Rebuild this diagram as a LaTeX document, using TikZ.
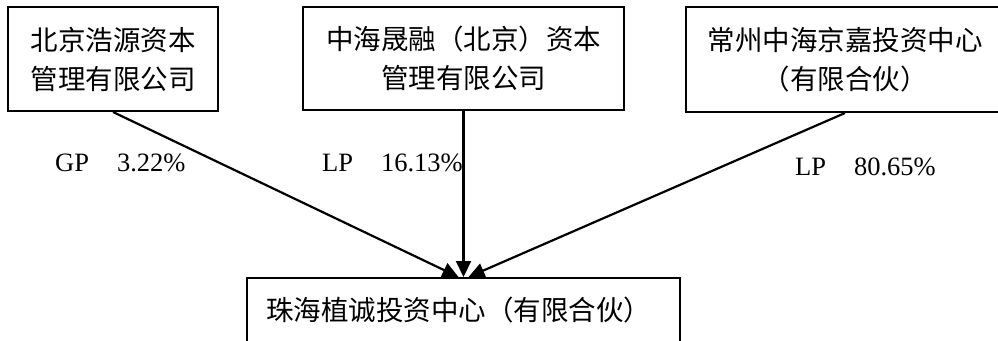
\documentclass[tikz,border=0pt]{standalone}
\usepackage{fontspec}
\setmainfont{Liberation Serif}
\newfontfamily\cjk{Noto Sans CJK SC}
\usetikzlibrary{arrows.meta,calc}
\begin{document}
\begin{tikzpicture}[x=1pt,y=-1pt,
  box/.style={draw,line width=2pt,align=center,inner sep=0pt,
    font=\cjk\fontsize{27.5}{39}\selectfont},
  conn/.style={line width=2.2pt,-{Triangle[length=16pt,width=15pt]}},
  pct/.style={anchor=west,inner sep=0pt,font=\fontsize{26.5}{30}\selectfont}]
\useasboundingbox (0,0) rectangle (998,340);
\node[box,minimum width=210pt,minimum height=104pt] (b1) at (113,59)
  {北京浩源资本\\管理有限公司};
\node[box,minimum width=321pt,minimum height=103pt] (b2) at (463.5,58.5)
  {中海晟融（北京）资本\\管理有限公司};
\node[box,minimum width=318pt,minimum height=105pt] (b3) at (845,59.5)
  {常州中海京嘉投资中心\\（有限合伙）};
\node[box,minimum width=433pt,minimum height=64pt] (b4) at (463.5,310)
  {\hspace*{-10pt}珠海植诚投资中心（有限合伙）};
\coordinate (t1) at ($(b4.north)+(-5,0)$);
\coordinate (t3) at ($(b4.north)+(5,0)$);
\draw[conn] (b1.south) -- (t1);
\draw[conn] (b2.south) -- (b4.north);
\draw[conn] (b3.south) -- (t3);
\node[pct] (l1) at (55,163) {GP\hspace{28pt}3.22\%};
\node[pct] (l2) at (322,163) {LP\hspace{28pt}16.13\%};
\node[pct] (l3) at (795,167) {LP\hspace{28pt}80.65\%};
\end{tikzpicture}
\end{document}
